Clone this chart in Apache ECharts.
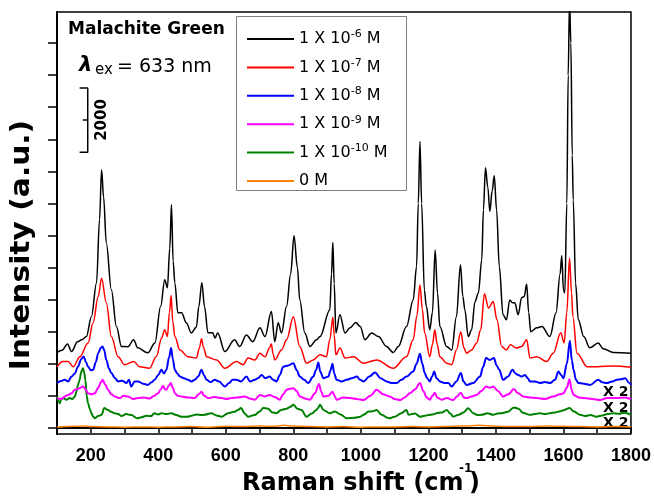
<!DOCTYPE html>
<html>
<head>
<meta charset="utf-8">
<title>Malachite Green SERS</title>
<script src="https://cdn.jsdelivr.net/npm/echarts@6/dist/echarts.min.js"></script>
<style>
html,body{margin:0;padding:0;background:#fff}
#chart{width:654px;height:496px}
</style>
</head>
<body>
<div id="chart"></div>
<script>
// tick labels on the Raman shift axis, tick values on the intensity axis
var xTickLabels = [200, 400, 600, 800, 1000, 1200, 1400, 1600, 1800];
var yTickValues = [0, 1000, 2000, 3000, 4000, 5000, 6000, 7000, 8000, 9000, 10000, 11000, 12000];

var seriesNames = ['1 X 10-6 M', '1 X 10-7 M', '1 X 10-8 M', '1 X 10-9 M', '1 X 10-10 M', '0 M'];
var seriesExp = ['-6', '-7', '-8', '-9', '-10', ''];
var seriesColors = ['#000000', '#ff0000', '#0000ff', '#ff00ff', '#008000', '#ff8000'];
var seriesWidths = [1.5, 1.5, 2, 2, 2, 1.5];

// [Raman shift, intensity] (offset spectra)
var conc6 = [[100,2350],[115,2420],[131,2620],[143,2380],[161,2690],[175,2760],[187,2850],[202,3470],[217,4520],[226,6500],[232,8050],[238,7200],[246,5770],[261,4310],[276,3160],[291,2540],[310,2530],[327,2750],[339,2500],[369,2340],[390,2650],[407,3790],[419,4620],[427,4370],[434,5600],[439,6960],[444,5200],[449,4520],[458,3590],[469,3590],[483,3280],[498,2960],[513,3150],[520,3780],[529,4530],[537,3780],[547,2970],[561,2970],[568,2800],[576,2960],[597,2380],[626,2750],[641,2540],[661,2900],[680,2690],[701,3120],[716,2850],[735,3630],[745,2690],[755,3280],[765,2960],[780,3790],[792,4800],[802,5990],[812,5000],[819,3990],[834,2960],[849,2540],[869,2750],[879,2850],[908,3680],[913,4800],[917,5780],[921,4500],[926,2960],[938,3530],[953,2960],[968,3120],[985,3290],[998,3160],[1012,2750],[1032,2960],[1052,2850],[1076,2540],[1096,2350],[1111,2540],[1135,3160],[1155,3990],[1165,5030],[1170,7000],[1175,8930],[1180,7000],[1188,4300],[1194,3790],[1204,3060],[1212,3600],[1220,5550],[1227,4200],[1234,3160],[1254,2540],[1269,2430],[1283,3470],[1295,5090],[1302,4100],[1308,3680],[1318,2850],[1328,3060],[1338,3940],[1348,4210],[1358,5240],[1363,6800],[1369,8110],[1376,7500],[1382,6750],[1389,7400],[1395,7860],[1402,6800],[1410,5030],[1421,3530],[1431,3370],[1441,3990],[1449,3900],[1456,3900],[1466,3530],[1476,4060],[1484,4100],[1491,4490],[1497,3600],[1503,3000],[1521,3120],[1536,3160],[1560,2850],[1578,3590],[1590,4800],[1595,5370],[1600,4300],[1604,4210],[1610,7000],[1614,11000],[1618,13300],[1622,12000],[1626,8500],[1629,7110],[1636,4500],[1644,3370],[1660,2850],[1678,2500],[1703,2650],[1718,2470],[1748,2350],[1800,2330]];

var conc7 = [[100,1910],[118,2070],[133,2070],[148,1910],[168,2220],[192,2650],[207,3280],[222,4100],[232,4670],[246,3900],[261,2850],[281,2220],[300,1970],[327,2070],[345,1910],[374,1860],[394,2220],[410,2800],[419,3060],[427,2850],[433,3600],[438,4130],[443,3300],[449,2850],[464,2430],[488,2220],[513,2180],[522,2500],[528,2780],[534,2500],[543,2220],[573,2120],[597,1860],[632,2070],[651,1970],[666,2180],[686,2120],[701,2330],[716,2220],[730,2500],[735,2620],[740,2300],[745,2120],[765,2430],[780,2750],[800,3470],[819,2540],[839,2020],[859,2120],[879,2280],[898,2220],[908,2750],[917,3450],[921,2900],[926,2280],[938,2490],[953,2180],[978,2220],[1008,2020],[1047,2120],[1096,1860],[1135,2220],[1155,2750],[1166,3500],[1175,4460],[1182,3700],[1189,2960],[1204,2220],[1212,2600],[1219,3060],[1226,2600],[1234,2220],[1254,2020],[1269,1970],[1283,2430],[1296,2990],[1305,2500],[1313,2330],[1328,2430],[1343,2650],[1355,3060],[1366,4180],[1378,3740],[1392,3940],[1403,3370],[1417,2540],[1431,2430],[1443,2590],[1461,2490],[1476,2540],[1491,2750],[1501,2180],[1521,2220],[1550,2070],[1570,2330],[1592,2970],[1602,2650],[1610,3600],[1618,5300],[1624,4200],[1628,3470],[1640,2330],[1670,1910],[1700,1910],[1748,1930],[1800,1890]];

var conc8 = [[100,1400],[112,1460],[123,1500],[133,1450],[143,1600],[153,1700],[162,1910],[172,2150],[179,2230],[186,2050],[192,1910],[200,1800],[207,1810],[215,2050],[222,2330],[230,2500],[235,2540],[240,2420],[246,2120],[254,1850],[261,1710],[271,1560],[281,1450],[293,1470],[306,1400],[313,1500],[320,1290],[330,1450],[340,1450],[355,1380],[369,1340],[380,1420],[389,1500],[400,1650],[409,1810],[417,1700],[424,1810],[432,2200],[438,2490],[443,2150],[449,1810],[456,1700],[464,1600],[476,1550],[488,1500],[498,1450],[508,1500],[518,1600],[528,1810],[535,1650],[543,1500],[555,1430],[567,1500],[580,1450],[597,1290],[610,1400],[620,1500],[632,1500],[645,1450],[661,1600],[672,1450],[686,1500],[695,1550],[706,1650],[717,1550],[730,1600],[740,1500],[750,1450],[760,1650],[770,1910],[785,1950],[800,2020],[810,1800],[819,1600],[832,1500],[844,1400],[859,1600],[867,1800],[874,2040],[880,1750],[889,1550],[904,1600],[910,1800],[916,2000],[921,1700],[928,1500],[943,1450],[958,1500],[973,1550],[988,1600],[998,1500],[1008,1450],[1025,1600],[1042,1730],[1058,1550],[1076,1450],[1090,1400],[1106,1400],[1120,1500],[1135,1600],[1155,1760],[1165,2000],[1175,2310],[1182,2000],[1189,1710],[1196,1550],[1204,1450],[1211,1600],[1217,1760],[1224,1550],[1234,1450],[1247,1400],[1259,1400],[1269,1290],[1283,1450],[1296,1710],[1304,1450],[1313,1340],[1333,1400],[1353,1600],[1362,1900],[1371,2180],[1382,2120],[1394,2180],[1402,1950],[1410,1810],[1421,1500],[1436,1600],[1449,1810],[1458,1700],[1466,1650],[1476,1600],[1486,1650],[1494,1550],[1501,1450],[1515,1450],[1531,1400],[1545,1430],[1560,1400],[1575,1500],[1585,1760],[1593,1650],[1600,1550],[1610,2000],[1619,2720],[1625,2100],[1630,1810],[1637,1500],[1644,1400],[1660,1380],[1679,1340],[1703,1500],[1715,1420],[1728,1400],[1745,1450],[1758,1500],[1770,1520],[1783,1550],[1795,1400],[1800,1340]];

var conc9 = [[100,930],[112,900],[123,980],[133,1030],[143,1080],[153,1190],[165,1230],[177,1290],[185,1200],[192,1080],[202,1050],[212,1080],[222,1250],[230,1420],[235,1500],[243,1350],[251,1190],[261,1050],[271,980],[285,930],[298,1000],[310,980],[325,900],[340,930],[357,950],[374,920],[388,1000],[399,1080],[407,1200],[414,1310],[420,1200],[424,1190],[430,1300],[437,1400],[443,1250],[449,1080],[458,1000],[468,980],[488,950],[508,930],[520,1050],[528,1130],[536,1000],[548,930],[565,960],[587,930],[603,900],[617,930],[635,950],[656,980],[670,920],[686,880],[701,1030],[715,980],[730,1030],[745,960],[760,880],[770,1050],[780,1190],[790,1220],[800,1240],[810,1150],[819,980],[834,920],[849,880],[864,1080],[876,1370],[882,1150],[889,980],[904,1000],[916,1130],[922,1000],[928,880],[948,950],[968,930],[988,900],[1008,870],[1028,1000],[1047,1190],[1066,1050],[1086,980],[1100,900],[1116,870],[1130,950],[1145,1080],[1160,1200],[1175,1400],[1185,1150],[1195,950],[1204,880],[1212,1000],[1219,1100],[1226,950],[1239,880],[1255,930],[1273,870],[1285,980],[1296,1100],[1305,950],[1313,930],[1328,980],[1343,1030],[1357,1150],[1371,1290],[1382,1250],[1392,1290],[1406,1150],[1421,980],[1437,1050],[1453,1210],[1466,1080],[1481,980],[1500,950],[1521,930],[1545,900],[1570,980],[1590,1050],[1600,1080],[1610,1250],[1618,1520],[1624,1200],[1630,1030],[1645,950],[1660,930],[1685,900],[1708,870],[1730,930],[1758,930],[1780,950],[1800,900]];

var conc10 = [[100,980],[104,850],[108,770],[113,900],[118,930],[128,880],[138,930],[146,900],[153,980],[158,1150],[162,1340],[167,1500],[172,1760],[177,1860],[181,1700],[184,1500],[188,1000],[192,770],[197,600],[202,460],[207,350],[212,300],[222,370],[232,410],[240,620],[251,560],[261,500],[271,460],[281,430],[291,370],[305,430],[320,400],[338,300],[350,330],[365,380],[379,370],[388,460],[400,420],[409,460],[424,430],[439,460],[453,400],[468,350],[487,350],[498,380],[513,420],[528,400],[536,410],[557,460],[572,390],[587,350],[607,460],[625,500],[636,560],[645,620],[656,450],[666,350],[685,400],[699,500],[711,620],[725,600],[738,480],[750,460],[764,560],[780,600],[790,650],[800,720],[812,600],[824,560],[839,350],[855,450],[867,550],[873,620],[879,720],[890,550],[908,460],[923,510],[940,420],[958,300],[982,320],[998,350],[1010,420],[1022,510],[1035,520],[1047,560],[1060,420],[1081,310],[1086,300],[1100,350],[1120,460],[1135,560],[1141,410],[1160,450],[1175,350],[1190,380],[1200,400],[1212,420],[1224,460],[1240,480],[1254,560],[1265,450],[1273,350],[1290,410],[1304,480],[1318,610],[1333,460],[1345,400],[1358,410],[1375,460],[1392,410],[1405,450],[1417,460],[1435,500],[1453,640],[1467,600],[1480,470],[1501,410],[1515,430],[1530,460],[1545,430],[1560,460],[1575,480],[1590,520],[1603,560],[1618,620],[1630,520],[1649,410],[1665,370],[1680,400],[1698,350],[1715,390],[1730,430],[1748,460],[1765,440],[1780,470],[1800,410]];

var conc0 = [[100,20],[150,50],[180,60],[200,40],[250,30],[300,20],[350,30],[400,20],[450,30],[500,40],[550,20],[600,50],[650,40],[700,60],[750,50],[770,80],[800,60],[850,40],[900,30],[950,40],[1000,20],[1050,30],[1100,30],[1150,40],[1200,30],[1250,40],[1300,60],[1350,80],[1400,50],[1450,40],[1500,40],[1550,60],[1600,50],[1650,40],[1700,30],[1750,40],[1800,30]];

var seriesData = [conc6, conc7, conc8, conc9, conc10, conc0];

// 2000-count scale bar, drawn in data units
var scaleBar = [[167,10600],[191,10600],[191,8600],[167,8600],null,[176,9600],[191,9600]];

var chart = echarts.init(document.getElementById('chart'));

var series = seriesData.map(function (d, i) {
    return {
        name: seriesNames[i],
        type: 'line',
        data: d,
        symbol: 'none',
        smooth: 0.35,
        smoothMonotone: 'x',
        lineStyle: {color: seriesColors[i], width: seriesWidths[i]},
        itemStyle: {color: seriesColors[i]},
        z: 10 - i
    };
});
series.push({
    name: 'scale',
    type: 'line',
    data: scaleBar,
    symbol: 'none',
    connectNulls: false,
    lineStyle: {color: '#000', width: 1.5},
    silent: true
});

chart.setOption({
    animation: false,
    grid: {left: 57, right: 22, top: 12, bottom: 62, show: true, borderColor: '#000', borderWidth: 1.5},
    xAxis: {
        type: 'value',
        min: 100, max: 1800, interval: 100,
        axisLine: {lineStyle: {color: '#000', width: 2}},
        axisTick: {length: 5, lineStyle: {color: '#000', width: 1.5}},
        splitLine: {show: false},
        axisLabel: {
            color: '#000', fontFamily: 'Liberation Sans', fontWeight: 'bold', fontSize: 18, margin: 13,
            formatter: function (v) { return xTickLabels.indexOf(v) >= 0 ? String(v) : ''; }
        }
    },
    yAxis: {
        type: 'value',
        min: -190, max: 12970,
        axisLine: {show: true, lineStyle: {color: '#000', width: 2}},
        axisTick: {show: true, length: 9, customValues: yTickValues, lineStyle: {color: '#000', width: 1.5}},
        axisLabel: {show: false},
        splitLine: {show: false}
    },
    legend: {
        data: seriesNames,
        orient: 'vertical',
        left: 247, top: 29,
        padding: 0,
        icon: 'rect',
        itemWidth: 47, itemHeight: 2, itemGap: 8.4,
        formatter: function (name) {
            var i = seriesNames.indexOf(name);
            return seriesExp[i] ? '{n|1 X 10}{s|' + seriesExp[i] + '}{n| M}' : '{n|0 M}';
        },
        textStyle: {
            color: '#000', fontFamily: 'DejaVu Sans', fontSize: 16, lineHeight: 20, height: 20,
            rich: {
                n: {fontFamily: 'DejaVu Sans', fontSize: 16, lineHeight: 20, color: '#000'},
                s: {fontFamily: 'DejaVu Sans', fontSize: 11, lineHeight: 10, verticalAlign: 'top', color: '#000'}
            }
        }
    },
    graphic: [
        {type: 'rect', shape: {x: 236.5, y: 16.5, width: 170, height: 174}, style: {fill: 'none', stroke: '#808080', lineWidth: 1}, z: 100},
        {type: 'text', x: 68, y: 30, style: {text: 'Malachite Green', font: 'bold 17px "DejaVu Sans"', fill: '#000', align: 'left', verticalAlign: 'middle'}},
        {type: 'text', x: 79, y: 66, style: {text: '\u03bb', font: 'italic bold 21px "DejaVu Sans"', fill: '#000', align: 'left', verticalAlign: 'middle'}},
        {type: 'text', x: 95, y: 70, style: {text: 'ex', font: '15px "DejaVu Sans"', fill: '#000', align: 'left', verticalAlign: 'middle'}},
        {type: 'text', x: 117, y: 67, style: {text: '= 633 nm', font: '19px "DejaVu Sans"', fill: '#000', align: 'left', verticalAlign: 'middle'}},
        {type: 'text', x: 102, y: 120, rotation: Math.PI / 2, style: {text: '2000', font: 'bold 15px "DejaVu Sans"', fill: '#000', align: 'center', verticalAlign: 'middle'}},
        {type: 'text', x: 22, y: 245, rotation: Math.PI / 2, scaleX: 1.1, style: {text: 'Intensity (a.u.)', font: 'bold 27px "DejaVu Sans"', fill: '#000', align: 'center', verticalAlign: 'middle'}},
        {type: 'text', x: 242, y: 484, style: {text: 'Raman shift (cm', font: 'bold 24px "DejaVu Sans"', fill: '#000', align: 'left', verticalAlign: 'middle'}},
        {type: 'text', x: 459, y: 469, style: {text: '-1', font: 'bold 12px "DejaVu Sans"', fill: '#000', align: 'left', verticalAlign: 'middle'}},
        {type: 'text', x: 469, y: 484, style: {text: ')', font: 'bold 24px "DejaVu Sans"', fill: '#000', align: 'left', verticalAlign: 'middle'}},
        {type: 'text', x: 603, y: 392, style: {text: 'X 2', font: 'bold 14px "DejaVu Sans"', fill: '#000', align: 'left', verticalAlign: 'middle'}},
        {type: 'text', x: 603, y: 408, style: {text: 'X 2', font: 'bold 14px "DejaVu Sans"', fill: '#000', align: 'left', verticalAlign: 'middle'}},
        {type: 'text', x: 603, y: 423, style: {text: 'X 2', font: 'bold 14px "DejaVu Sans"', fill: '#000', align: 'left', verticalAlign: 'middle'}}
    ],
    series: series
});
</script>
</body>
</html>
